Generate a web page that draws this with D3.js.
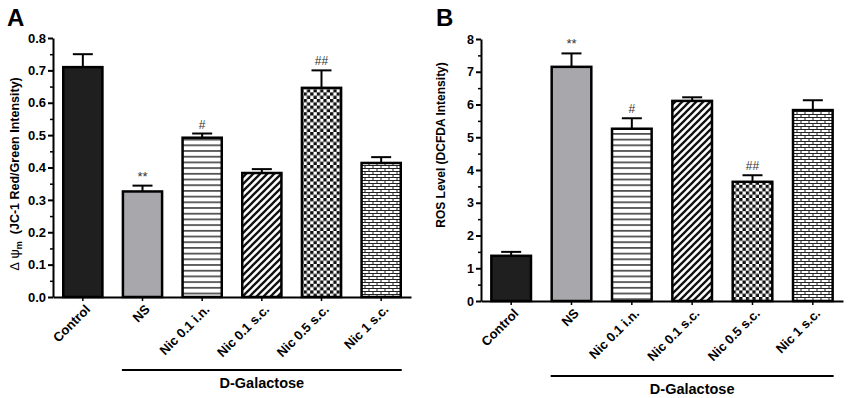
<!DOCTYPE html>
<html>
<head>
<meta charset="UTF-8">
<title></title>
<script src="https://d3js.org/d3.v7.min.js"></script>
<style>
  body { margin: 0; background: #fff; }
  svg { font-family: Arial, "Liberation Sans", sans-serif; }
</style>
</head>
<body>
<div id="svg"></div>
<script>
// groups on the x axis (same for both panels)
const categories = ["Control", "NS", "Nic 0.1 i.n.", "Nic 0.1 s.c.", "Nic 0.5 s.c.", "Nic 1 s.c."];

// panel A: mitochondrial membrane potential
const mmpValues = [0.71, 0.326, 0.492, 0.383, 0.646, 0.414];
const mmpErrors = [0.040, 0.018, 0.013, 0.012, 0.054, 0.018];
const mmpMarks = ["", "**", "#", "", "##", ""];
const mmpTicks = [0, 0.1, 0.2, 0.3, 0.4, 0.5, 0.6, 0.7, 0.8];

// panel B: ROS level
const rosValues = [1.38, 7.15, 5.26, 6.11, 3.64, 5.83];
const rosErrors = [0.12, 0.41, 0.32, 0.11, 0.20, 0.30];
const rosMarks = ["", "**", "#", "", "##", ""];
const rosTicks = [0, 1, 2, 3, 4, 5, 6, 7, 8];

const groupLabel = "D-Galactose";
const fills = ["#1f1f1f", "#a8a8ac", "url(#hline)", "url(#diag)", "url(#check)", "url(#brick)"];

const width = 850, height = 398;
const svg = d3.select("#svg").append("svg").attr("width", width).attr("height", height);
svg.append("rect").attr("width", width).attr("height", height).attr("fill", "#fff");

// fill patterns
const defs = svg.append("defs");
const hline = defs.append("pattern").attr("id", "hline").attr("patternUnits", "userSpaceOnUse")
  .attr("width", 6).attr("height", 5.7);
hline.append("rect").attr("width", 6).attr("height", 5.7).attr("fill", "#fff");
hline.append("line").attr("x1", 0).attr("x2", 6).attr("y1", 2.8).attr("y2", 2.8)
  .attr("stroke", "#111").attr("stroke-width", 1.3);

const diag = defs.append("pattern").attr("id", "diag").attr("patternUnits", "userSpaceOnUse")
  .attr("width", 7).attr("height", 7);
diag.append("rect").attr("width", 7).attr("height", 7).attr("fill", "#fff");
diag.append("path").attr("d", "M-2,2 L2,-2 M0,7 L7,0 M5,9 L9,5")
  .attr("stroke", "#111").attr("stroke-width", 2.3);

const check = defs.append("pattern").attr("id", "check").attr("patternUnits", "userSpaceOnUse")
  .attr("width", 6.6).attr("height", 6.6);
check.append("rect").attr("width", 6.6).attr("height", 6.6).attr("fill", "#fff");
check.append("rect").attr("width", 3.3).attr("height", 3.3).attr("fill", "#111");
check.append("rect").attr("x", 3.3).attr("y", 3.3).attr("width", 3.3).attr("height", 3.3).attr("fill", "#111");

const brick = defs.append("pattern").attr("id", "brick").attr("patternUnits", "userSpaceOnUse")
  .attr("width", 8).attr("height", 6);
brick.append("rect").attr("width", 8).attr("height", 6).attr("fill", "#fff");
brick.append("path").attr("d", "M0,0.5 H8 M0,3.5 H8 M1,0.5 V3.5 M5,3.5 V6.5")
  .attr("stroke", "#222").attr("stroke-width", 1);

// draws one bar panel
function drawPanel(p) {
  const x = d3.scaleBand().domain(categories).range([p.left, p.right])
    .paddingInner(0.31).paddingOuter(0.155);
  const y = d3.scaleLinear().domain([0, p.max]).range([p.bottom, p.top]);
  const g = svg.append("g");

  // bars
  g.selectAll(".bar").data(p.values).join("rect")
    .attr("x", (d, i) => x(categories[i]) + 1)
    .attr("width", x.bandwidth() - 2)
    .attr("y", d => y(d))
    .attr("height", d => y(0) - y(d))
    .attr("fill", (d, i) => fills[i])
    .attr("stroke", "#000").attr("stroke-width", 2.5);

  // error bars (upper only)
  const eb = g.selectAll(".err").data(p.values).join("g");
  eb.append("line")
    .attr("x1", (d, i) => x(categories[i]) + x.bandwidth() / 2)
    .attr("x2", (d, i) => x(categories[i]) + x.bandwidth() / 2)
    .attr("y1", d => y(d))
    .attr("y2", (d, i) => y(d + p.errors[i]))
    .attr("stroke", "#000").attr("stroke-width", 2);
  eb.append("line")
    .attr("x1", (d, i) => x(categories[i]) + x.bandwidth() / 2 - 10)
    .attr("x2", (d, i) => x(categories[i]) + x.bandwidth() / 2 + 10)
    .attr("y1", (d, i) => y(d + p.errors[i]))
    .attr("y2", (d, i) => y(d + p.errors[i]))
    .attr("stroke", "#000").attr("stroke-width", 2);

  // significance marks
  g.selectAll(".mark").data(p.values).join("text")
    .attr("x", (d, i) => x(categories[i]) + x.bandwidth() / 2)
    .attr("y", (d, i) => y(d + p.errors[i]) - 5)
    .attr("text-anchor", "middle")
    .attr("font-size", (d, i) => p.marks[i].includes("*") ? 13 : 12)
    .attr("fill", "#333")
    .text((d, i) => p.marks[i]);

  // y axis with minor ticks
  const minor = d3.range(0, p.max, p.minorStep).filter(v => !p.ticks.some(t => Math.abs(t - v) < 1e-9));
  g.append("g").attr("transform", `translate(${p.left},0)`)
    .call(d3.axisLeft(y).tickValues(minor).tickSize(3).tickFormat(""))
    .call(a => a.select(".domain").remove())
    .call(a => a.selectAll("line").attr("stroke-width", 1.5));
  g.append("g").attr("transform", `translate(${p.left},0)`)
    .call(d3.axisLeft(y).tickValues(p.ticks).tickSize(5).tickSizeOuter(0).tickPadding(2).tickFormat(p.format))
    .call(a => a.select(".domain").attr("stroke-width", 2))
    .call(a => a.selectAll("line").attr("stroke-width", 2))
    .call(a => a.selectAll("text").attr("font-size", p.tickFont).attr("font-weight", "bold").attr("fill", "#000"));

  // x axis with rotated labels
  g.append("g").attr("transform", `translate(0,${p.bottom})`)
    .call(d3.axisBottom(x).tickSize(4).tickSizeOuter(0))
    .call(a => a.select(".domain").attr("stroke-width", 2))
    .call(a => a.selectAll("line").attr("stroke-width", 1.5))
    .call(a => a.selectAll("text")
      .attr("x", 0).attr("y", 0).attr("dy", "0.35em")
      .attr("transform", "translate(5,10) rotate(-45)")
      .attr("text-anchor", "end")
      .attr("font-size", 13).attr("font-weight", "bold").attr("fill", "#000"));

  // D-Galactose bracket
  const gx0 = x("NS"), gx1 = x(categories[categories.length - 1]) + x.bandwidth();
  g.append("line").attr("x1", gx0).attr("x2", gx1)
    .attr("y1", p.bottom + p.bracket).attr("y2", p.bottom + p.bracket)
    .attr("stroke", "#000").attr("stroke-width", 2);
  g.append("text").attr("x", (gx0 + gx1) / 2).attr("y", p.bottom + p.bracket + 18)
    .attr("text-anchor", "middle").attr("font-size", 14.5).attr("font-weight", "bold")
    .text(groupLabel);

  // panel letter
  g.append("text").attr("x", p.letterX).attr("y", 26)
    .attr("font-size", 24).attr("font-weight", "bold").text(p.letter);

  // y axis title
  const yt = g.append("text")
    .attr("transform", `translate(${p.titleX},${p.titleY}) rotate(-90)`)
    .attr("text-anchor", "middle").attr("font-weight", "bold").attr("font-size", p.titleFont);
  p.title(yt);
}

drawPanel({
  letter: "A", letterX: 7,
  left: 53, right: 411, top: 38, bottom: 297,
  max: 0.8, minorStep: 0.05, ticks: mmpTicks, format: d3.format(".1f"), tickFont: 13,
  values: mmpValues, errors: mmpErrors, marks: mmpMarks, bracket: 73,
  titleX: 19, titleY: 174, titleFont: 12.5,
  title: t => {
    t.append("tspan").attr("font-weight", "normal").attr("font-size", 13).text("\u0394\u00a0\u03c8");
    t.append("tspan").attr("font-size", 9).attr("dy", 3).text("m");
    t.append("tspan").attr("dy", -3).text("\u00a0\u00a0(JC-1 Red/Green Intensity)");
  }
});

drawPanel({
  letter: "B", letterX: 436,
  left: 481, right: 843, top: 39, bottom: 301,
  max: 8, minorStep: 0.5, ticks: rosTicks, format: d3.format("d"), tickFont: 12.5,
  values: rosValues, errors: rosErrors, marks: rosMarks, bracket: 75,
  titleX: 445, titleY: 145, titleFont: 12,
  title: t => t.text("ROS Level (DCFDA Intensity)")
});
</script>
</body>
</html>
